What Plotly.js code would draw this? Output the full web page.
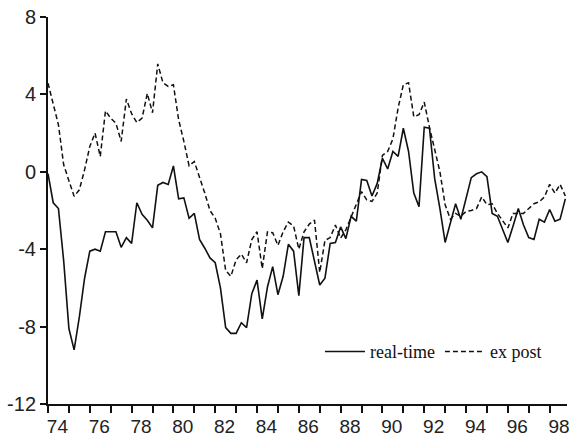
<!DOCTYPE html>
<html>
<head>
<meta charset="utf-8">
<script src="https://cdn.plot.ly/plotly-3.0.1.min.js"></script>
<style>html,body{margin:0;padding:0;background:#fff}#chart{width:571px;height:439px}</style>
</head>
<body>
<div id="chart"></div>
<script>
// Quarterly observations, 1974Q1 .. 1998Q4
const startYear = 74;
const realTime = [
 -0.1,-1.6,-1.9,-4.6, -8.1,-9.2,-7.5,-5.5, -4.1,-4.0,-4.1,-3.1, -3.1,-3.1,-3.9,-3.4,
 -3.7,-1.6,-2.2,-2.5, -2.9,-0.7,-0.55,-0.65, 0.3,-1.4,-1.35,-2.4, -2.15,-3.5,-3.95,-4.45,
 -4.7,-6.0,-8.05,-8.35, -8.35,-7.8,-8.05,-6.3, -5.6,-7.6,-5.95,-4.9, -6.35,-5.4,-3.75,-4.1,
 -6.4,-3.4,-3.4,-4.6, -5.85,-5.5,-3.7,-3.65, -2.85,-3.45,-2.3,-2.55, -0.4,-0.45,-1.25,-0.6,
 0.7,0.15,1.05,0.8, 2.25,1.05,-1.1,-1.8, 2.3,2.25,-0.35,-1.9, -3.65,-2.65,-1.65,-2.45,
 -1.3,-0.3,-0.1,0.0, -0.25,-2.15,-2.3,-3.0, -3.65,-2.8,-1.9,-2.75, -3.4,-3.5,-2.45,-2.6,
 -1.95,-2.55,-2.45,-1.4
];
const exPost = [
 4.58,3.55,2.43,0.36, -0.5,-1.27,-0.93,0.1, 1.31,2.0,0.79,3.15, 2.77,2.51,1.57,3.76,
 3.0,2.55,2.77,4.05, 3.05,5.58,4.6,4.41, 4.5,2.69,1.57,0.31, 0.53,-0.24,-1.1,-2.0,
 -2.4,-3.2,-5.1,-5.4, -4.55,-4.25,-4.7,-3.5, -3.1,-5.0,-3.1,-3.15, -3.8,-3.1,-2.6,-2.8,
 -4.0,-3.1,-2.7,-2.5, -5.2,-3.55,-3.4,-2.75, -3.43,-3.0,-2.31,-1.62, -1.02,-1.45,-1.53,-1.1,
 0.85,1.05,1.7,3.3, 4.5,4.6,2.85,2.95, 3.6,2.3,1.1,0.0, -1.7,-2.45,-2.15,-2.3,
 -2.05,-2.0,-1.9,-1.3, -1.7,-1.65,-2.15,-2.5, -2.9,-2.15,-2.15,-2.15, -1.9,-1.65,-1.55,-1.3,
 -0.65,-1.1,-0.65,-1.25
];
const seriesNames = ['real-time', 'ex post'];
const yTicks = [-12, -8, -4, 0, 4, 8];
const xLabelYears = [74,76,78,80,82,84,86,88,90,92,94,96,98];
const xLabels = xLabelYears.map(String);

const x = realTime.map((_, i) => startYear + i / 4);

const traces = [
  {x: x, y: realTime, name: seriesNames[0], mode: 'lines', type: 'scatter',
   line: {color: '#111', width: 1.6}, hoverinfo: 'skip'},
  {x: x, y: exPost, name: seriesNames[1], mode: 'lines', type: 'scatter',
   line: {color: '#111', width: 1.5, dash: '5px,3px'}, hoverinfo: 'skip'},
  {x: [xLabelYears[0] + 0.5], y: [null], xaxis: 'x2', mode: 'lines', showlegend: false, hoverinfo: 'skip'}
];

const tickFont = {family: 'Liberation Sans, Arial, sans-serif', size: 20, color: '#222'};
const xTickFont = {family: 'Liberation Sans, Arial, sans-serif', size: 19, color: '#222'};

const layout = {
  width: 571, height: 439,
  margin: {l: 48, r: 4, t: 17, b: 35, pad: 0},
  paper_bgcolor: '#fff', plot_bgcolor: '#fff',
  showlegend: true,
  legend: {orientation: 'h', x: 0.524, y: 0.135, xanchor: 'left', yanchor: 'middle',
           font: {family: 'Liberation Serif, Times New Roman, serif', size: 18, color: '#111'},
           bgcolor: 'rgba(0,0,0,0)', itemwidth: 40, traceorder: 'normal'},
  xaxis: {range: [74, 98.83], showgrid: false, zeroline: false, showline: true,
          linecolor: '#111', linewidth: 2, ticks: 'outside', ticklen: 7, tickwidth: 2,
          tickcolor: '#111', tickmode: 'linear', tick0: 74, dtick: 1, showticklabels: false},
  xaxis2: {overlaying: 'x', matches: 'x', side: 'bottom', showgrid: false, zeroline: false,
           showline: false, ticks: 'outside', ticklen: 5, tickcolor: 'rgba(0,0,0,0)',
           tickmode: 'array', ticklabeloverflow: 'allow',
           tickvals: xLabelYears.map(v => v + 0.45), ticktext: xLabels, tickfont: xTickFont},
  yaxis: {range: [-12, 8], showgrid: false, zeroline: false, showline: true,
          linecolor: '#111', linewidth: 2, ticks: 'outside', ticklen: 6, tickwidth: 2,
          tickcolor: '#111', tickmode: 'array', tickvals: yTicks, ticktext: yTicks.map(String),
          tickfont: tickFont}
};

Plotly.newPlot('chart', traces, layout, {staticPlot: true, displayModeBar: false});
</script>
</body>
</html>
